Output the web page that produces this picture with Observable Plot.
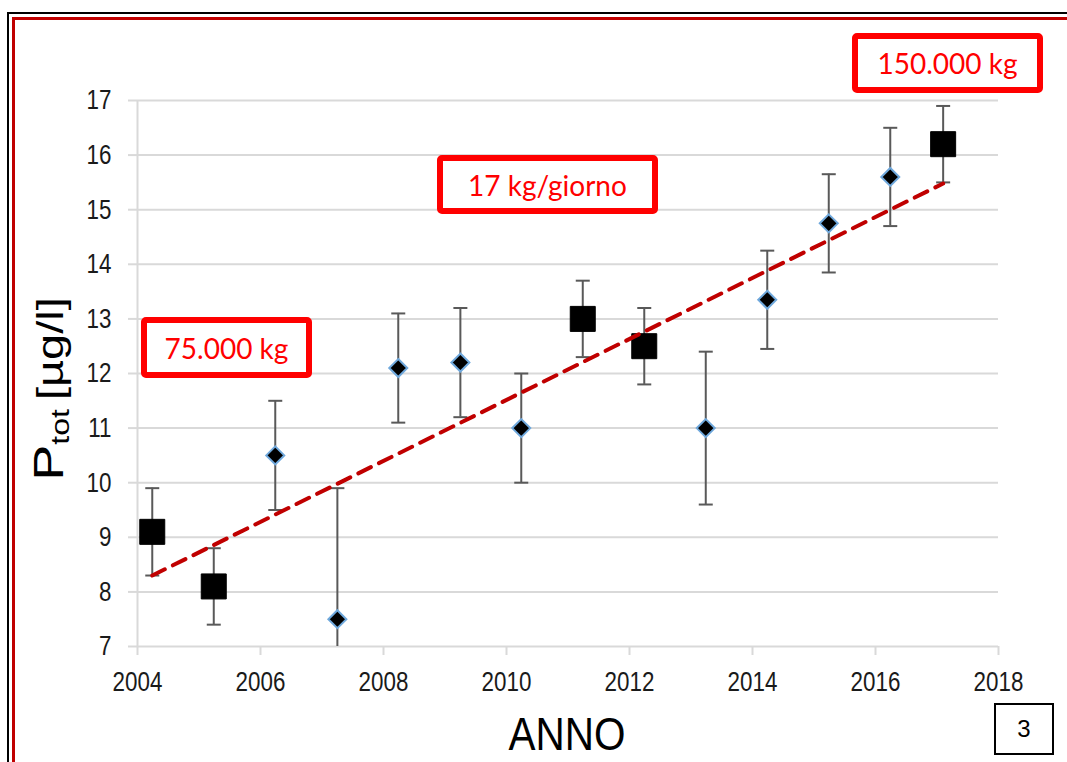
<!DOCTYPE html>
<html><head><meta charset="utf-8">
<script src="https://cdn.jsdelivr.net/npm/d3@7"></script>
<script src="https://cdn.jsdelivr.net/npm/@observablehq/plot@0.6"></script>
<style>
body{margin:0;background:#fff;}
#wrap{position:relative;width:1067px;height:762px;overflow:hidden;background:#fff;font-family:"Liberation Sans",Arial,sans-serif;}
#chart{position:absolute;left:0;top:0;}
.frame1{position:absolute;left:7px;top:12px;width:1200px;height:900px;border:2px solid #000;}
.frame2{position:absolute;left:12px;top:17px;width:1200px;height:900px;border:3px solid #c00000;}
.note{position:absolute;box-sizing:border-box;border:6px solid #ff0000;border-radius:5px;color:#ff0000;font-family:Lato,"Open Sans",sans-serif;font-size:28px;display:flex;align-items:center;justify-content:center;background:#fff;}
.ylab{position:absolute;left:50px;top:389px;transform:translate(-50%,-50%) rotate(-90deg) scale(1,0.78);white-space:nowrap;font-size:47px;color:#000;line-height:1;}
.ylab .p{font-size:54px;}
.ylab sub{font-size:32px;vertical-align:-8px;margin-right:-4px;}
.xlab{position:absolute;left:567px;top:711px;transform:translateX(-50%) scale(0.88,1);font-size:46px;line-height:1;color:#000;}
.num{position:absolute;left:994px;top:703px;width:60px;height:52px;box-sizing:border-box;border:2px solid #000;display:flex;align-items:center;justify-content:center;font-family:"Liberation Sans",Arial,sans-serif;font-size:24px;}
</style></head>
<body>
<div id="wrap">
  <div class="frame1"></div>
  <div class="frame2"></div>
  <div id="chart"></div>
  <div class="ylab"><span class="p">P</span><sub>tot</sub> [µg/l]</div>
  <div class="xlab">ANNO</div>
  <div class="note" style="left:141px;top:317px;width:171px;height:61px;">75.000 kg</div>
  <div class="note" style="left:437px;top:155px;width:221px;height:59px;">17 kg/giorno</div>
  <div class="note" style="left:852px;top:33px;width:191px;height:60px;">150.000 kg</div>
  <div class="num">3</div>
</div>
<script>
// Data
const years   = [2004.24, 2005.24, 2006.24, 2007.25, 2008.24, 2009.25, 2010.24, 2011.24, 2012.24, 2013.24, 2014.24, 2015.24, 2016.24, 2017.1];
const values  = [9.1, 8.1, 10.5, 7.5, 12.1, 12.2, 11.0, 13.0, 12.5, 11.0, 13.35, 14.75, 15.6, 16.2];
const errLow  = [8.3, 7.4, 9.5, 5.1, 11.1, 11.2, 10.0, 12.3, 11.8, 9.6, 12.45, 13.85, 14.7, 15.5];
const errHigh = [9.9, 8.8, 11.5, 9.9, 13.1, 13.2, 12.0, 13.7, 13.2, 12.4, 14.25, 15.65, 16.5, 16.9];
const markerType = ["square","square","diamond","diamond","diamond","diamond","diamond","square","square","diamond","diamond","diamond","diamond","square"];
const trendYears  = [2004.24, 2017.1];
const trendValues = [8.3, 15.48];
const xTicks = [2004, 2006, 2008, 2010, 2012, 2014, 2016, 2018];
const yTicks = [7, 8, 9, 10, 11, 12, 13, 14, 15, 16, 17];

const data = years.map((x, i) => ({x, y: values[i], lo: errLow[i], hi: errHigh[i], type: markerType[i]}));
const trend = trendYears.map((x, i) => ({x, y: trendValues[i]}));

const capSymbol = {draw(ctx, size){const r = Math.sqrt(size/Math.PI); ctx.moveTo(-r,0); ctx.lineTo(r,0);}};
const squareSymbol = {draw(ctx, size){const r = Math.sqrt(size/Math.PI); ctx.rect(-r,-r,2*r,2*r);}};
const diamondSymbol = {draw(ctx, size){const r = Math.sqrt(size/Math.PI); ctx.moveTo(0,-r); ctx.lineTo(r,0); ctx.lineTo(0,r); ctx.lineTo(-r,0); ctx.closePath();}};

const grid = "#d9d9d9", errC = "#595959";

const chart = Plot.plot({
  width: 1067, height: 762,
  marginLeft: 137, marginRight: 69, marginTop: 100, marginBottom: 116,
  style: {fontFamily: '"Liberation Sans",Arial,sans-serif', fontSize: "28px", color: "#1a1a1a", background: "transparent", overflow: "visible"},
  x: {domain: [2004, 2018]},
  y: {domain: [7, 17]},
  marks: [
    Plot.ruleY(yTicks, {stroke: grid, strokeWidth: 2}),
    Plot.ruleX([2004], {stroke: grid, strokeWidth: 2}),
    Plot.axisY({ticks: yTicks, tickSize: 9, tickPadding: 17, stroke: grid, strokeWidth: 2, label: null, fontSize: 28}),
    Plot.axisX({ticks: xTicks, tickSize: 9, tickPadding: 16, tickFormat: d => String(d), stroke: grid, strokeWidth: 2, label: null, fontSize: 28}),
    Plot.ruleX(data, {x: "x", y1: "lo", y2: "hi", stroke: errC, strokeWidth: 2, clip: true}),
    Plot.dot(data, {x: "x", y: "lo", symbol: capSymbol, r: 7, stroke: errC, strokeWidth: 2, clip: true}),
    Plot.dot(data, {x: "x", y: "hi", symbol: capSymbol, r: 7, stroke: errC, strokeWidth: 2, clip: true}),
    Plot.dot(data, {filter: d => d.type === "square", x: "x", y: "y", symbol: squareSymbol, r: 12.5, fill: "#000", stroke: "#000", strokeWidth: 1}),
    Plot.dot(data, {filter: d => d.type === "diamond", x: "x", y: "y", symbol: diamondSymbol, r: 9, fill: "#000", stroke: "#6fa8dc", strokeWidth: 2}),
    Plot.line(trend, {x: "x", y: "y", stroke: "#c00000", strokeWidth: 4, strokeDasharray: "14,9"})
  ]
});
// narrow the tick labels horizontally, as in the reference
d3.select(chart).selectAll('g[aria-label$="tick label"] text').each(function() {
  const t = this.getAttribute("transform") || "";
  this.setAttribute("transform", t + " scale(0.8,1)");
});
document.getElementById("chart").appendChild(chart);
</script>
</body></html>
